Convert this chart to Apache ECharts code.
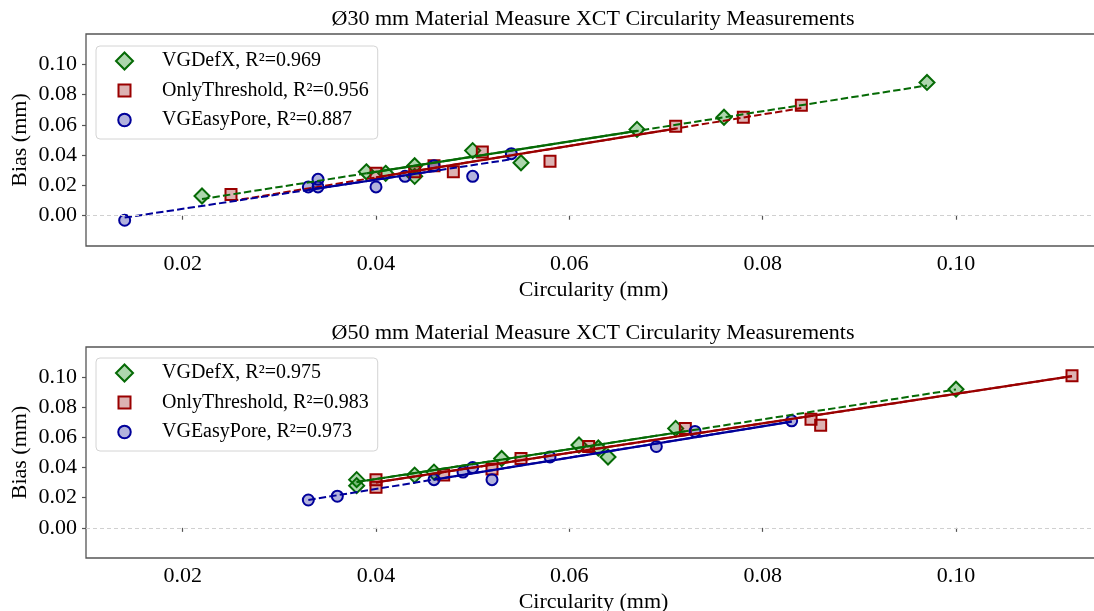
<!DOCTYPE html>
<html>
<head>
<meta charset="utf-8">
<script src="https://cdn.jsdelivr.net/npm/echarts@6/dist/echarts.min.js"></script>
<style>html,body{margin:0;padding:0;background:#fff;}#c{width:1094px;height:611px;}</style>
</head>
<body>
<div id="c"></div>
<script>
// ---------- data ----------
const xTicks = [0.02, 0.04, 0.06, 0.08, 0.10];
const yTicks = [0.00, 0.02, 0.04, 0.06, 0.08, 0.10];
const xLabel = 'Circularity (mm)';
const yLabel = 'Bias (mm)';
const titles = ['Ø30 mm Material Measure XCT Circularity Measurements',
                'Ø50 mm Material Measure XCT Circularity Measurements'];
const topNames = ['VGDefX, R²=0.969', 'OnlyThreshold, R²=0.956', 'VGEasyPore, R²=0.887'];
const botNames = ['VGDefX, R²=0.975', 'OnlyThreshold, R²=0.983', 'VGEasyPore, R²=0.973'];

// Ø30 panel
const topDefX_x = [0.022, 0.039, 0.041, 0.044, 0.044, 0.050, 0.055, 0.067, 0.076, 0.097];
const topDefX_y = [0.013, 0.029, 0.028, 0.033, 0.026, 0.043, 0.035, 0.057, 0.065, 0.088];
const topThr_x  = [0.025, 0.040, 0.044, 0.046, 0.048, 0.051, 0.058, 0.071, 0.078, 0.084];
const topThr_y  = [0.014, 0.028, 0.029, 0.033, 0.029, 0.042, 0.036, 0.059, 0.065, 0.073];
const topEasy_x = [0.014, 0.033, 0.034, 0.034, 0.040, 0.043, 0.046, 0.050, 0.054];
const topEasy_y = [-0.003, 0.019, 0.024, 0.019, 0.019, 0.026, 0.033, 0.026, 0.041];
// fit lines: [slope, intercept]; ranges: [dashStart, solidStart, solidEnd, dashEnd]
const topDefX_fit = [1.00, -0.0110];   const topDefX_rng = [0.022, 0.039, 0.067, 0.097];
const topThr_fit  = [1.04, -0.0163];   const topThr_rng  = [0.025, 0.040, 0.071, 0.084];
const topEasy_fit = [0.962, -0.0147];  const topEasy_rng = [0.014, 0.033, 0.046, 0.054];

// Ø50 panel
const botDefX_x = [0.038, 0.038, 0.044, 0.046, 0.053, 0.061, 0.063, 0.064, 0.071, 0.100];
const botDefX_y = [0.032, 0.028, 0.035, 0.037, 0.046, 0.055, 0.053, 0.047, 0.066, 0.092];
const botThr_x  = [0.040, 0.040, 0.047, 0.052, 0.055, 0.062, 0.072, 0.085, 0.086, 0.112];
const botThr_y  = [0.032, 0.027, 0.035, 0.039, 0.046, 0.054, 0.066, 0.072, 0.068, 0.101];
const botEasy_x = [0.033, 0.036, 0.046, 0.049, 0.050, 0.052, 0.058, 0.069, 0.073, 0.083];
const botEasy_y = [0.0185, 0.021, 0.032, 0.037, 0.040, 0.032, 0.047, 0.054, 0.064, 0.071];
const botDefX_fit = [0.99, -0.0072];   const botDefX_rng = [0.038, 0.038, 0.072, 0.100];
const botThr_fit  = [0.979, -0.0090];  const botThr_rng  = [0.040, 0.040, 0.112, 0.112];
const botEasy_fit = [1.04, -0.0158];   const botEasy_rng = [0.033, 0.046, 0.083, 0.083];

// ---------- style ----------
const FONT = "'Liberation Serif', 'Times New Roman', serif";
const GREEN = '#056a05', RED = '#9a0000', BLUE = '#00009a';
const GREEN_F = 'rgba(0,128,0,0.32)', RED_F = 'rgba(139,0,0,0.3)', BLUE_F = 'rgba(0,0,139,0.3)';
const SPINE = '#555555';
// legend icons (padded so that square/circle come out smaller than the diamond)
const ICON_DIAMOND = 'diamond';
const ICON_SQUARE = 'path://M0,0M17,17M2.5,2.5L14.5,2.5L14.5,14.5L2.5,14.5Z';
const ICON_CIRCLE = 'path://M0,0M17,17M2.25,8.5A6.25,6.25 0 1 1 14.75,8.5A6.25,6.25 0 1 1 2.25,8.5Z';

function pts(xs, ys) { return xs.map((x, i) => [x, ys[i]]); }

function scatter(name, xs, ys, gi, symbol, size, fill, edge, withZero) {
  const s = {
    type: 'scatter', name, xAxisIndex: gi, yAxisIndex: gi,
    data: pts(xs, ys), symbol, symbolSize: size, symbolKeepAspect: true,
    itemStyle: { color: fill, borderColor: edge, borderWidth: 2, opacity: 1 },
    emphasis: { disabled: true }, z: 2, animation: false
  };
  if (withZero) {
    s.markLine = {
      silent: true, symbol: ['none', 'none'], label: { show: false }, animation: false,
      lineStyle: { color: '#d0d0d0', type: [4, 3], width: 1 },
      data: [{ yAxis: 0 }]
    };
  }
  return s;
}

function fit(fitArr, rng, gi, color) {
  const f = x => fitArr[0] * x + fitArr[1];
  const mk = (x0, x1, type, w) => ({
    type: 'line', xAxisIndex: gi, yAxisIndex: gi, silent: true, symbol: 'none', showSymbol: false,
    data: [[x0, f(x0)], [x1, f(x1)]], z: 3, animation: false,
    lineStyle: { color, width: w, type }
  });
  return [mk(rng[0], rng[3], [7.4, 3.2], 2), mk(rng[1], rng[2], 'solid', 2.2)];
}

const grids = [
  { left: 86, top: 34, width: 1015, height: 212 },
  { left: 86, top: 347, width: 1015, height: 211 }
].map(g => Object.assign(g, { show: true, borderColor: SPINE, borderWidth: 1.3, backgroundColor: 'transparent',
                              containLabel: false, outerBoundsMode: 'none' }));

const xAxes = [0, 1].map(i => ({
  type: 'value', gridIndex: i, min: 0.01, max: 0.115,
  axisLine: { show: false },
  axisTick: { show: true, length: 4, customValues: xTicks, lineStyle: { color: SPINE, width: 1.2 } },
  axisLabel: { customValues: xTicks, formatter: v => v.toFixed(2), fontFamily: FONT, fontSize: 22, color: '#000', margin: 7 },
  splitLine: { show: false },
  name: xLabel, nameLocation: 'middle', nameGap: 33, nameMoveOverlap: false,
  nameTextStyle: { fontFamily: FONT, fontSize: 22, color: '#000' }
}));
const yAxes = [0, 1].map(i => ({
  type: 'value', gridIndex: i, min: -0.02, max: 0.12, interval: 0.02,
  axisLine: { show: false },
  axisTick: { show: true, length: 4, customValues: yTicks, lineStyle: { color: SPINE, width: 1.2 } },
  axisLabel: { customValues: yTicks, formatter: v => v.toFixed(2), fontFamily: FONT, fontSize: 22, color: '#000', margin: 9 },
  splitLine: { show: false },
  name: yLabel, nameLocation: 'middle', nameGap: 55, nameMoveOverlap: false,
  nameTextStyle: { fontFamily: FONT, fontSize: 22, color: '#000' }
}));

function legend(names, top) {
  return {
    data: [
      { name: names[0], icon: ICON_DIAMOND },
      { name: names[1], icon: ICON_SQUARE },
      { name: names[2], icon: ICON_CIRCLE }
    ],
    orient: 'vertical', left: 96, top, selectedMode: false,
    padding: [4, 9, 8, 19], itemGap: 7.5, itemWidth: 17, itemHeight: 17, symbolKeepAspect: true,
    textStyle: { fontFamily: FONT, fontSize: 20, color: '#000', lineHeight: 22, padding: [0, 0, 0, 24] },
    borderColor: '#d4d4d4', borderWidth: 1, borderRadius: 4, backgroundColor: 'rgba(255,255,255,0.85)'
  };
}

const series = [
  scatter(topNames[0], topDefX_x, topDefX_y, 0, 'diamond', 15, GREEN_F, GREEN, true),
  scatter(topNames[1], topThr_x, topThr_y, 0, 'rect', 11, RED_F, RED, false),
  scatter(topNames[2], topEasy_x, topEasy_y, 0, 'circle', 11, BLUE_F, BLUE, false),
  ...fit(topDefX_fit, topDefX_rng, 0, GREEN),
  ...fit(topThr_fit, topThr_rng, 0, RED),
  ...fit(topEasy_fit, topEasy_rng, 0, BLUE),
  scatter(botNames[0], botDefX_x, botDefX_y, 1, 'diamond', 15, GREEN_F, GREEN, true),
  scatter(botNames[1], botThr_x, botThr_y, 1, 'rect', 11, RED_F, RED, false),
  scatter(botNames[2], botEasy_x, botEasy_y, 1, 'circle', 11, BLUE_F, BLUE, false),
  ...fit(botDefX_fit, botDefX_rng, 1, GREEN),
  ...fit(botThr_fit, botThr_rng, 1, RED),
  ...fit(botEasy_fit, botEasy_rng, 1, BLUE)
];

const chart = echarts.init(document.getElementById('c'), null, { renderer: 'canvas' });
chart.setOption({
  animation: false,
  backgroundColor: '#fff',
  title: [
    { text: titles[0], left: 593, top: 8, textAlign: 'center', padding: 0,
      textStyle: { fontFamily: FONT, fontSize: 22, fontWeight: 'normal', color: '#000' } },
    { text: titles[1], left: 593, top: 322, textAlign: 'center', padding: 0,
      textStyle: { fontFamily: FONT, fontSize: 22, fontWeight: 'normal', color: '#000' } }
  ],
  legend: [legend(topNames, 46), legend(botNames, 358)],
  grid: grids,
  xAxis: xAxes,
  yAxis: yAxes,
  series
});
</script>
</body>
</html>
